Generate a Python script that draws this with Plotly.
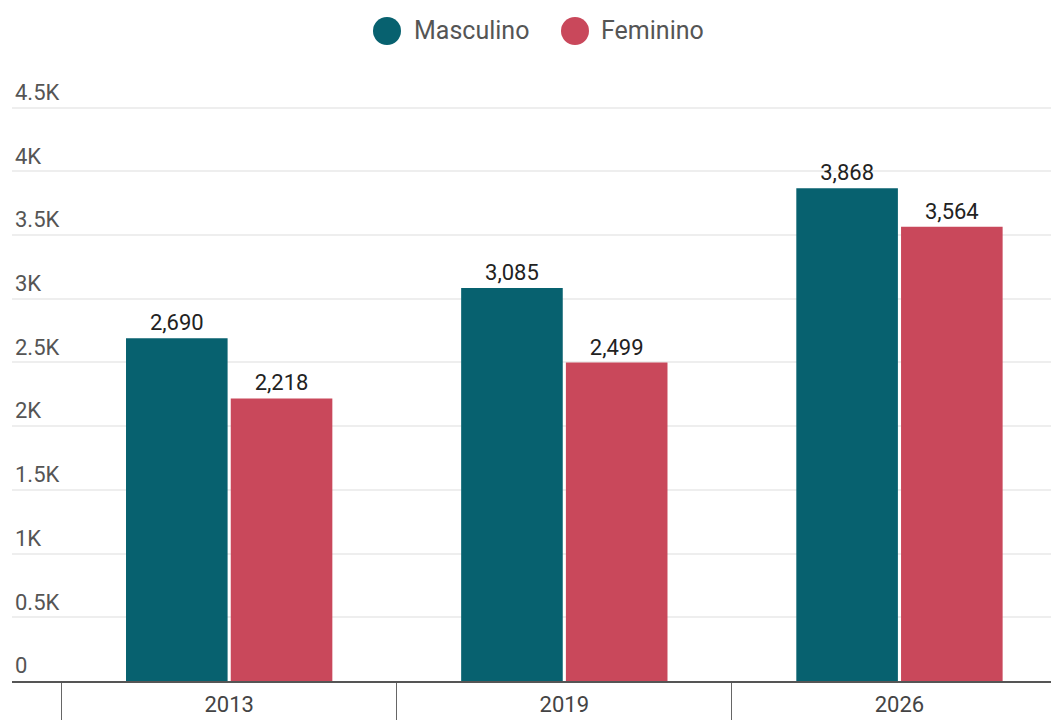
import plotly.graph_objects as go

years = ["2013", "2019", "2026"]
masculino = [2690, 3085, 3868]
feminino = [2218, 2499, 3564]
series_names = ["Masculino", "Feminino"]
series_colors = ["#07616F", "#C9485B"]
y_tick_vals = [0, 500, 1000, 1500, 2000, 2500, 3000, 3500, 4000, 4500]
y_tick_text = ["0", "0.5K", "1K", "1.5K", "2K", "2.5K", "3K", "3.5K", "4K", "4.5K"]

FONT = "Roboto"
OFF = 8  # default page body margin
W, H = 1059 - OFF, 720 - OFF
ML, MR, MT, MB = 12 - OFF, 0, 55, 39
PW, PH = W - ML - MR, H - MT - MB

fig = go.Figure()
for name, vals, col in zip(series_names, [masculino, feminino], series_colors):
    fig.add_trace(go.Bar(
        x=years, y=vals, name=name, marker=dict(color=col, line=dict(width=0)),
        texttemplate="%{y:,}", textposition="outside", constraintext="none",
        textfont=dict(family=FONT, size=22, color="#222222"),
        cliponaxis=False, showlegend=False,
    ))

# custom legend (circles + labels), positions in page pixels
def px2paper_x(px):
    return (px - OFF - ML) / PW

def px2paper_y(py):
    return (H - MB - (py - OFF)) / PH

legend_items = [(387, 414), (575, 601)]
shapes = []
annotations = []
for (cx, tx), name, col in zip(legend_items, series_names, series_colors):
    shapes.append(dict(type="circle", xref="paper", yref="paper",
                       xsizemode="pixel", ysizemode="pixel",
                       xanchor=px2paper_x(cx), yanchor=px2paper_y(31),
                       x0=-14, x1=14, y0=-14, y1=14,
                       fillcolor=col, line=dict(width=0)))
    annotations.append(dict(x=px2paper_x(tx), y=px2paper_y(31), xref="paper", yref="paper",
                            text=name, showarrow=False, xanchor="left", yanchor="middle",
                            xshift=-2,
                            font=dict(family=FONT, size=25, color="#555555")))

fig.update_layout(
    width=W, height=H,
    margin=dict(l=ML, r=MR, t=MT, b=MB, autoexpand=False),
    paper_bgcolor="white", plot_bgcolor="white",
    barmode="group", bargap=0.375, bargroupgap=0.03,
    shapes=shapes, annotations=annotations,
    font=dict(family=FONT),
)
fig.update_xaxes(
    type="category", range=[-0.648, 2.476], automargin=False,
    showline=True, linecolor="#555555", linewidth=2,
    showgrid=False, ticks="outside", tickson="boundaries",
    ticklen=39, tickcolor="#666666", tickwidth=1,
    ticklabelstandoff=3,
    tickfont=dict(family=FONT, size=22, color="#444444"),
)
fig.update_yaxes(
    range=[0, 4850], tickvals=y_tick_vals, ticktext=y_tick_text, automargin=False,
    ticklabelposition="inside top", showgrid=True, gridcolor="#eeeeee", gridwidth=2,
    zeroline=False, showline=False,
    tickfont=dict(family=FONT, size=22, color="#555555"),
)

fig.write_html("out.html")
